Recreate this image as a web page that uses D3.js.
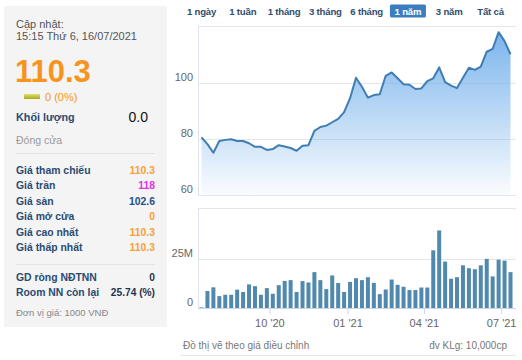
<!DOCTYPE html>
<html><head><meta charset="utf-8">
<script src="https://cdn.jsdelivr.net/npm/d3@7"></script>
<style>
html,body{margin:0;padding:0;background:#fff;}
svg{display:block;font-family:"Liberation Sans",Arial,sans-serif;}
</style></head>
<body><svg id="c" width="522" height="360"></svg>
<script>
// ---- data ----
const weeks = ["2020-07-13","2020-07-20","2020-07-27","2020-08-03","2020-08-10","2020-08-17","2020-08-24","2020-08-31","2020-09-07","2020-09-14","2020-09-21","2020-09-28","2020-10-05","2020-10-12","2020-10-19","2020-10-26","2020-11-02","2020-11-09","2020-11-16","2020-11-23","2020-11-30","2020-12-07","2020-12-14","2020-12-21","2020-12-28",
"2021-01-04","2021-01-11","2021-01-18","2021-01-25","2021-02-01","2021-02-08","2021-02-15","2021-02-22","2021-03-01","2021-03-08","2021-03-15","2021-03-22","2021-03-29","2021-04-05","2021-04-12","2021-04-19","2021-04-26","2021-05-03","2021-05-10","2021-05-17","2021-05-24","2021-05-31","2021-06-07","2021-06-14","2021-06-21","2021-06-28","2021-07-05","2021-07-12"];
const closePrice = [80.6,78.2,75.1,79.3,79.7,79.9,79.3,79.3,78.5,77.2,77.2,76.1,76.4,77.8,77.3,76.8,75.8,77.6,77.8,82.9,84.3,84.8,86.0,87.2,89.6,
94.6,101.9,98.7,94.8,95.7,96.0,102.6,103.8,101.7,99.6,99.4,97.9,98.1,100.7,101.7,105.6,100.3,99.1,98.2,101.9,105.5,104.7,105.9,111.2,112.2,118.2,115.0,110.3];
const volumeM = [0.3,8.7,10.6,6.1,6.8,6.8,9.4,8.2,12.1,11.2,6.8,10.2,7.3,11.7,13.9,14.3,8.2,13.8,13.1,18.4,14.3,9.7,16.7,12.8,8.2,
13.4,15.3,14.3,15.8,12.9,7.1,9.5,14.6,11.9,10.9,9.2,9.2,10.5,10.5,29.6,39.8,23.8,15.0,15.8,21.9,20.4,19.9,21.9,25.2,16.2,24.8,24.3,18.4];
const priceTicks = [60,80,100];
const volumeTicks = [0,25];
const monthTicks = ["2020-10-01","2021-01-01","2021-04-01","2021-07-01"];
const rangeTabs = ["1 ngày","1 tuần","1 tháng","3 tháng","6 tháng","1 năm","3 năm","Tất cả"];
const selectedTab = "1 năm";
const infoRows = [
  ["Giá tham chiếu","110.3","#f7a035"],
  ["Giá trần","118","#e62ee6"],
  ["Giá sàn","102.6","#1f4f8a"],
  ["Giá mở cửa","0","#f7a035"],
  ["Giá cao nhất","110.3","#f7a035"],
  ["Giá thấp nhất","110.3","#f7a035"]
];
const infoRows2 = [["GD ròng NĐTNN","0"],["Room NN còn lại","25.74 (%)"]];

// ---- drawing ----
const svg = d3.select("#c");
const parse = d3.utcParse("%Y-%m-%d");
const dates = weeks.map(parse);
const labelColor = "#2b4b72";

// left info panel
svg.append("rect").attr("x",4).attr("y",6).attr("width",163).attr("height",321).attr("fill","#f4f4f4");
const L = svg.append("g");
L.append("text").attr("x",16).attr("y",28).attr("font-size",11).attr("fill","#555").text("Cập nhật:");
L.append("text").attr("x",16).attr("y",40).attr("font-size",11).attr("fill","#555").text("15:15 Thứ 6, 16/07/2021");
L.append("text").attr("x",15).attr("y",82).attr("font-size",31).attr("font-weight","bold").attr("fill","#f7941d").text("110.3");
const grad0 = svg.append("defs").append("linearGradient").attr("id","chg").attr("x1",0).attr("y1",0).attr("x2",0).attr("y2",1);
grad0.append("stop").attr("offset","0").attr("stop-color","#e0e070");
grad0.append("stop").attr("offset","1").attr("stop-color","#a8a818");
L.append("rect").attr("x",24).attr("y",94).attr("width",16).attr("height",5).attr("fill","url(#chg)");
L.append("text").attr("x",45).attr("y",101).attr("font-size",11).attr("fill","#f7941d").text("0 (0%)");
L.append("text").attr("x",16).attr("y",121).attr("font-size",10.8).attr("font-weight","bold").attr("fill",labelColor).text("Khối lượng");
L.append("text").attr("x",148).attr("y",122).attr("font-size",14).attr("text-anchor","end").attr("fill","#111").text("0.0");
L.append("text").attr("x",16).attr("y",144).attr("font-size",10.5).attr("fill","#999").text("Đóng cửa");
L.append("line").attr("x1",16).attr("x2",155).attr("y1",153.5).attr("y2",153.5).attr("stroke","#e2e2e2");
infoRows.forEach((r,i)=>{
  const y = 174 + i*15.4;
  L.append("text").attr("x",16).attr("y",y).attr("font-size",10.4).attr("font-weight","bold").attr("fill",labelColor).text(r[0]);
  L.append("text").attr("x",155).attr("y",y).attr("font-size",10.4).attr("font-weight","bold").attr("text-anchor","end").attr("fill",r[2]).text(r[1]);
});
L.append("line").attr("x1",16).attr("x2",155).attr("y1",264.5).attr("y2",264.5).attr("stroke","#e2e2e2");
infoRows2.forEach((r,i)=>{
  const y = 281 + i*15;
  L.append("text").attr("x",16).attr("y",y).attr("font-size",10.4).attr("font-weight","bold").attr("fill",labelColor).text(r[0]);
  L.append("text").attr("x",155).attr("y",y).attr("font-size",10.2).attr("font-weight","bold").attr("text-anchor","end").attr("fill","#1f3550").text(r[1]);
});
L.append("text").attr("x",16).attr("y",316).attr("font-size",9.5).attr("fill","#888").text("Đơn vị giá: 1000 VNĐ");

// tabs
const tabCenters = d3.scalePoint().domain(rangeTabs).range([201.5,490.5]);
rangeTabs.forEach(t=>{
  const cx = tabCenters(t);
  if(t===selectedTab){
    svg.append("rect").attr("x",cx-18).attr("y",4.5).attr("width",36).attr("height",13).attr("rx",1.5).attr("fill","#3b7dbd");
  }
  svg.append("text").attr("x",cx).attr("y",15).attr("text-anchor","middle").attr("font-size",9.6).attr("font-weight","bold")
    .attr("letter-spacing",-0.2)
    .attr("fill", t===selectedTab ? "#fff" : "#2f4d6e").text(t);
});

// scales
const x = d3.scaleUtc().domain([dates[0], dates[dates.length-1]]).range([201.5,510.5]);
const yP = d3.scaleLinear().domain([60,120.4]).range([195,26]);
const yV = d3.scaleLinear().domain([0,51.3]).range([308,208]);
const plotL = 198, plotR = 516;

// price panel frame + grid
svg.append("line").attr("x1",plotL).attr("x2",plotR).attr("y1",26.5).attr("y2",26.5).attr("stroke","#e6e6e6");
priceTicks.forEach(v=>{
  svg.append("line").attr("x1",plotL).attr("x2",plotR).attr("y1",Math.round(yP(v))+0.5).attr("y2",Math.round(yP(v))+0.5)
    .attr("stroke",v===60?"#e0e6ee":"#e6e6e6");
  svg.append("text").attr("x",193).attr("y",yP(v)-2).attr("text-anchor","end").attr("font-size",11).attr("fill","#666").text(v);
});
svg.append("line").attr("x1",plotL+0.5).attr("x2",plotL+0.5).attr("y1",26).attr("y2",195).attr("stroke","#dde4ee");

const defs = svg.append("defs");
const g1 = defs.append("linearGradient").attr("id","areaG").attr("gradientUnits","userSpaceOnUse")
  .attr("x1",0).attr("y1",yP(118)).attr("x2",0).attr("y2",195);
g1.append("stop").attr("offset","0").attr("stop-color","#7cb5ec").attr("stop-opacity",1);
g1.append("stop").attr("offset","1").attr("stop-color","#7cb5ec").attr("stop-opacity",0.04);

const area = d3.area().x((d,i)=>x(dates[i])).y0(195).y1(d=>yP(d));
const line = d3.line().x((d,i)=>x(dates[i])).y(d=>yP(d));
svg.append("path").datum(closePrice).attr("d",area).attr("fill","url(#areaG)");
svg.append("path").datum(closePrice).attr("d",line).attr("fill","none").attr("stroke","#3f7db3").attr("stroke-width",2).attr("stroke-linejoin","round");

// volume panel
svg.append("line").attr("x1",plotL).attr("x2",plotR).attr("y1",208.5).attr("y2",208.5).attr("stroke","#e6e6e6");
volumeTicks.forEach(v=>{
  if(v>0) svg.append("line").attr("x1",plotL).attr("x2",plotR).attr("y1",Math.round(yV(v))+0.5).attr("y2",Math.round(yV(v))+0.5).attr("stroke","#e6e6e6");
  svg.append("text").attr("x",193).attr("y",yV(v)-2).attr("text-anchor","end").attr("font-size",11).attr("fill","#666").text(v===0?"0":v+"M");
});
svg.append("line").attr("x1",plotL+0.5).attr("x2",plotL+0.5).attr("y1",208).attr("y2",308).attr("stroke","#dde4ee");
svg.selectAll("rect.bar").data(volumeM).enter().append("rect").attr("class","bar")
  .attr("x",(d,i)=>x(dates[i])-2).attr("width",4)
  .attr("y",d=>yV(d)).attr("height",d=>308-yV(d)).attr("fill","#5089ad");

// x axis
const xAxis = d3.axisBottom(x).tickValues(monthTicks.map(parse)).tickFormat(d3.utcFormat("%m '%y")).tickSizeOuter(0).tickSize(6);
const gx = svg.append("g").attr("transform","translate(0,308)").call(xAxis);
gx.select(".domain").attr("d",`M${plotL},0.5H${plotR}`).attr("stroke","#ccd6eb");
gx.selectAll(".tick line").attr("stroke","#ccd6eb");
gx.selectAll(".tick text").attr("font-size",11).attr("fill","#666").attr("font-family","Liberation Sans, Arial, sans-serif").attr("dy","0.9em");

// footer
svg.append("text").attr("x",183).attr("y",349).attr("font-size",10).attr("fill","#777").text("Đồ thị vẽ theo giá điều chỉnh");
svg.append("text").attr("x",507).attr("y",349).attr("font-size",10).attr("text-anchor","end").attr("fill","#777").text("đv KLg: 10,000cp");
svg.append("line").attr("x1",180).attr("x2",516).attr("y1",355.5).attr("y2",355.5).attr("stroke","#e6e6e6");
</script></body></html>
